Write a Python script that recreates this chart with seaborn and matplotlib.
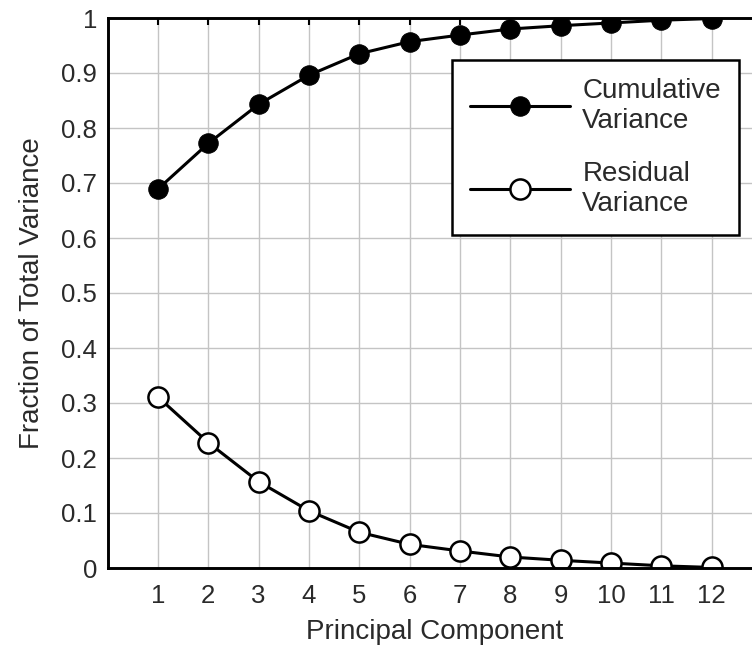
import pandas as pd
import matplotlib
matplotlib.use("Agg")
import matplotlib.pyplot as plt
import seaborn as sns

# Values
components = [1, 2, 3, 4, 5, 6, 7, 8, 9, 10, 11, 12]
cumulative = [0.689, 0.772, 0.843, 0.896, 0.935, 0.957, 0.969, 0.980, 0.986, 0.991, 0.996, 0.999]
residual = [0.311, 0.228, 0.157, 0.104, 0.065, 0.043, 0.031, 0.020, 0.014, 0.009, 0.004, 0.001]
y_ticks = [0, 0.1, 0.2, 0.3, 0.4, 0.5, 0.6, 0.7, 0.8, 0.9, 1]
y_tick_labels = ['0', '0.1', '0.2', '0.3', '0.4', '0.5', '0.6', '0.7', '0.8', '0.9', '1']

df = pd.DataFrame({'Component': components, 'Cumulative': cumulative, 'Residual': residual})

sns.set_style("white")
plt.rcParams['font.family'] = ['Liberation Sans', 'DejaVu Sans']
text_color = '#2a2a2a'

fig = plt.figure(figsize=(7.52, 6.52), dpi=100)
# axes runs past the right edge like the cropped original
ax = fig.add_axes([107.6 / 752, (652 - 568) / 652, 654.4 / 752, 550 / 652])

sns.lineplot(data=df, x='Component', y='Cumulative', ax=ax, color='black', linewidth=2.2,
             marker='o', markersize=14, markerfacecolor='black', markeredgecolor='black',
             label='Cumulative\nVariance')
sns.lineplot(data=df, x='Component', y='Residual', ax=ax, color='black', linewidth=2.2,
             marker='o', markersize=14.5, markerfacecolor='white', markeredgecolor='black',
             markeredgewidth=1.8, label='Residual\nVariance')

ax.set_xlim(0, 13)
ax.set_ylim(0, 1)
ax.set_xticks(components)
ax.set_yticks(y_ticks)
ax.set_yticklabels(y_tick_labels)
ax.grid(True, color='#c4c4c4', linewidth=1)
ax.set_axisbelow(True)
ax.tick_params(direction='in', length=5, width=1.5, top=True, right=True,
               labelsize=18.5, color='black', labelcolor=text_color)
ax.tick_params(axis='y', pad=7.5)
ax.tick_params(axis='x', pad=11.5)
for s in ax.spines.values():
    s.set_linewidth(2.1)
    s.set_color('black')

ax.set_xlabel('Principal Component', fontsize=20, labelpad=8, color=text_color)
ax.set_ylabel('Fraction of Total Variance', fontsize=20, labelpad=12, color=text_color)

leg = ax.legend(loc='upper left', bbox_to_anchor=(0.526, 0.924), borderaxespad=0,
                fancybox=False, edgecolor='black', fontsize=20, handlelength=3.6,
                labelspacing=0.97, borderpad=0.65, handletextpad=0.45)
leg.get_frame().set_linewidth(1.8)
leg.get_frame().set_alpha(1)
for t in leg.get_texts():
    t.set_color(text_color)

fig.savefig('out.png', dpi=100)
